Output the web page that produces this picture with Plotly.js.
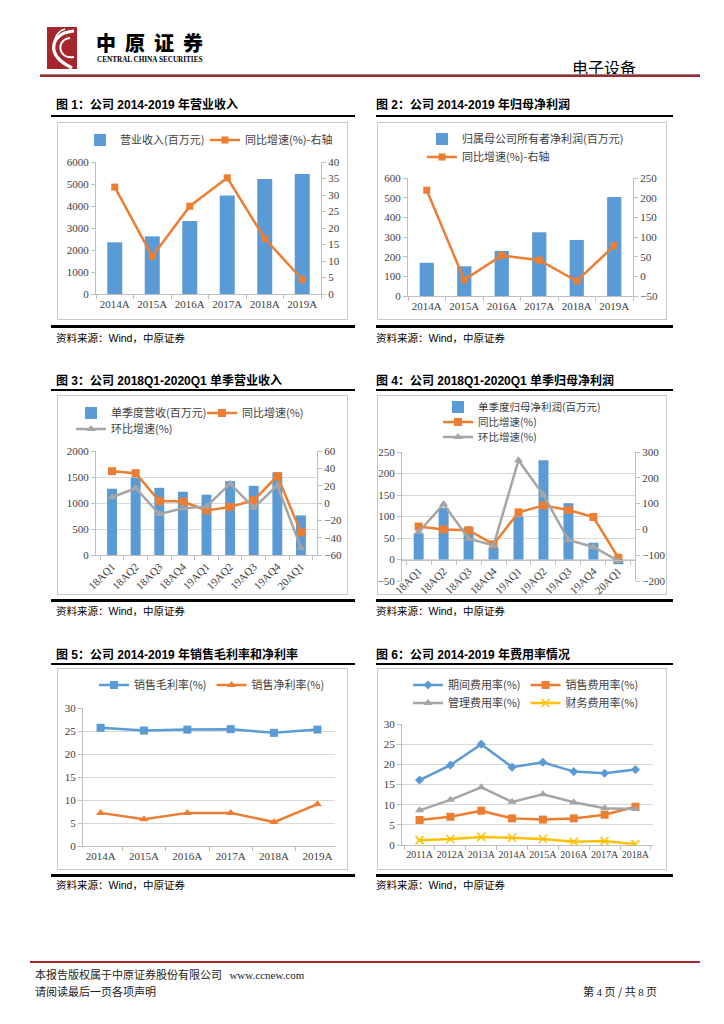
<!DOCTYPE html>
<html><head><meta charset="utf-8">
<script src="https://cdn.plot.ly/plotly-3.0.1.min.js"></script>
<style>
body{margin:0;background:#fff;}
#page{position:relative;width:724px;height:1024px;overflow:hidden;font-family:"Noto Sans CJK SC",sans-serif;color:#000;}
.title{position:absolute;font-family:"Liberation Sans","Noto Sans CJK SC",sans-serif;font-weight:bold;font-size:12px;line-height:14px;white-space:nowrap;}
.rule{position:absolute;height:2px;background:#000;}
.box{position:absolute;border:1px solid #c9c9c9;box-sizing:border-box;}
.src{position:absolute;font-size:10.5px;line-height:12px;white-space:nowrap;}
.src span{font-family:"Liberation Sans",sans-serif;}
.chart{position:absolute;}
.foot{position:absolute;font-size:11px;line-height:13px;white-space:nowrap;color:#222;}
</style></head><body><div id="page">

<svg style="position:absolute;left:47px;top:27px" width="30" height="42">
<rect width="30" height="42" fill="#a3272d"/>
<path d="M27,4 C13,5 5,13 7,24 C9,32 17,37 25,41" stroke="#fff" stroke-width="3.2" fill="none"/>
<path d="M23,11 C15,12 12,18 14,24 C16,29 21,31 27,30" stroke="#fff" stroke-width="2" fill="none"/>
<path d="M18,2 C12,4 9,8 8,12" stroke="#fff" stroke-width="1.5" fill="none"/>
</svg>
<div style="position:absolute;left:96px;top:31px;font-size:20px;line-height:24px;font-weight:900;letter-spacing:9px;white-space:nowrap;">中原证券</div>
<div style="position:absolute;left:97px;top:56px;font-family:'Liberation Serif',serif;font-weight:bold;font-size:7.2px;line-height:8px;white-space:nowrap;">CENTRAL CHINA SECURITIES</div>
<div style="position:absolute;left:572px;top:57px;font-size:16px;line-height:20px;white-space:nowrap;">电子设备</div>
<div style="position:absolute;left:40px;top:74px;width:660px;height:1px;background:#888;"></div>
<div style="position:absolute;left:40px;top:75px;width:660px;height:2px;background:#a3272d;"></div>

<div class="title" style="left:56px;top:98px">图 1：公司 2014-2019 年营业收入</div>
<div class="rule" style="left:51px;top:115px;width:304px"></div>
<div class="box" style="left:57px;top:122px;width:291px;height:198px"></div>
<div class="rule" style="left:51px;top:325px;width:304px;height:2.5px"></div>
<div class="src" style="left:56px;top:332px">资料来源：<span>Wind</span>，中原证券</div>

<div class="title" style="left:376px;top:98px">图 2：公司 2014-2019 年归母净利润</div>
<div class="rule" style="left:376px;top:115px;width:297px"></div>
<div class="box" style="left:377px;top:122px;width:290px;height:198px"></div>
<div class="rule" style="left:376px;top:325px;width:297px;height:2.5px"></div>
<div class="src" style="left:376px;top:332px">资料来源：<span>Wind</span>，中原证券</div>

<div class="title" style="left:56px;top:374px">图 3：公司 2018Q1-2020Q1 单季营业收入</div>
<div class="rule" style="left:51px;top:389px;width:304px"></div>
<div class="box" style="left:57px;top:395px;width:291px;height:200px"></div>
<div class="rule" style="left:51px;top:599px;width:304px;height:2.5px"></div>
<div class="src" style="left:56px;top:605px">资料来源：<span>Wind</span>，中原证券</div>

<div class="title" style="left:376px;top:374px">图 4：公司 2018Q1-2020Q1 单季归母净利润</div>
<div class="rule" style="left:376px;top:389px;width:297px"></div>
<div class="box" style="left:377px;top:395px;width:290px;height:200px"></div>
<div class="rule" style="left:376px;top:599px;width:297px;height:2.5px"></div>
<div class="src" style="left:376px;top:605px">资料来源：<span>Wind</span>，中原证券</div>

<div class="title" style="left:56px;top:648px">图 5：公司 2014-2019 年销售毛利率和净利率</div>
<div class="rule" style="left:51px;top:663px;width:304px"></div>
<div class="box" style="left:57px;top:668px;width:291px;height:202px"></div>
<div class="rule" style="left:51px;top:874px;width:304px;height:2.5px"></div>
<div class="src" style="left:56px;top:879px">资料来源：<span>Wind</span>，中原证券</div>

<div class="title" style="left:376px;top:648px">图 6：公司 2014-2019 年费用率情况</div>
<div class="rule" style="left:376px;top:663px;width:297px"></div>
<div class="box" style="left:377px;top:668px;width:290px;height:202px"></div>
<div class="rule" style="left:376px;top:874px;width:297px;height:2.5px"></div>
<div class="src" style="left:376px;top:879px">资料来源：<span>Wind</span>，中原证券</div>

<div id="c1" class="chart"></div>
<div id="c2" class="chart"></div>
<div id="c3" class="chart"></div>
<div id="c4" class="chart"></div>
<div id="c5" class="chart"></div>
<div id="c6" class="chart"></div>

<div style="position:absolute;left:30px;top:961px;width:670px;height:2px;background:#a3272d;"></div>
<div class="foot" style="left:35px;top:968px">本报告版权属于中原证券股份有限公司&nbsp;&nbsp;&nbsp;<span style="font-family:'Liberation Serif',serif">www.ccnew.com</span></div>
<div class="foot" style="left:35px;top:985px">请阅读最后一页各项声明</div>
<div class="foot" style="left:583px;top:985px">第 <span style="font-family:'Liberation Serif',serif">4</span> 页 / 共 <span style="font-family:'Liberation Serif',serif">8</span> 页</div>

</div>
<script>
// ---------- data ----------
const years1 = ['2014A','2015A','2016A','2017A','2018A','2019A'];
const revenue = [2350, 2620, 3320, 4475, 5230, 5455];
const revenueYoY = [32.4, 11.4, 26.6, 35.2, 16.8, 4.4];
const netProfit = [169, 151, 229, 324, 285, 503];
const netProfitYoY = [219, -9, 53, 41, -12, 78];
const quarters = ['18AQ1','18AQ2','18AQ3','18AQ4','19AQ1','19AQ2','19AQ3','19AQ4','20AQ1'];
const qRevenue = [1274, 1488, 1292, 1216, 1160, 1420, 1330, 1586, 762];
const qRevenueYoY = [36.7, 34.4, 2.2, 1.6, -8.7, -4.5, 3.1, 31.1, -33.8];
const qRevenueQoQ = [6.6, 17.0, -12.7, -6.2, -4.1, 22.3, -5.4, 20.2, -51.8];
const qProfit = [60, 120, 75, 28, 100, 231, 131, 39, -11];
const qProfitYoY = [11, 0, -3, -58, 66, 93, 75, 48, -110];
const qProfitQoQ = [-10, 98, -36, -62, 268, 133, -41, -68, -122];
const grossMargin = [25.7, 25.1, 25.3, 25.4, 24.6, 25.3];
const netMargin = [7.2, 5.8, 7.2, 7.2, 5.2, 9.1];
const years6 = ['2011A','2012A','2013A','2014A','2015A','2016A','2017A','2018A'];
const periodExp = [16.1, 19.8, 25.0, 19.3, 20.5, 18.2, 17.8, 18.7];
const sellingExp = [6.2, 7.0, 8.5, 6.6, 6.3, 6.6, 7.5, 9.5];
const adminExp = [8.6, 11.2, 14.3, 10.7, 12.6, 10.6, 9.1, 8.9];
const financeExp = [1.2, 1.5, 2.0, 1.8, 1.5, 0.8, 1.0, 0.2];

// ---------- styles ----------
const BLUE = '#5b9bd5', ORANGE = '#ed7d31', GREY = '#a5a5a5', YELLOW = '#ffc000';
const tickFont = {family:'"Liberation Serif", serif', size:11, color:'#404040'};
const legFont = {family:'"Noto Sans CJK SC", sans-serif', size:11, color:'#404040'};
function yAx(extra){ return Object.assign({showline:true, linecolor:'#bfbfbf', linewidth:1, ticks:'outside', ticklen:4, tickcolor:'#bfbfbf', tickfont:tickFont, zeroline:false, showgrid:false, gridcolor:'#d9d9d9', fixedrange:true, automargin:false}, extra); }
function xAx(extra){ return Object.assign({type:'category', showline:true, linecolor:'#bfbfbf', linewidth:1, ticks:'outside', ticklen:4, tickcolor:'#bfbfbf', tickson:'boundaries', tickfont:tickFont, showgrid:false, zeroline:false, fixedrange:true, automargin:false, tickangle:0}, extra); }
const EXL = 14, EXR = 8, EXB = 12; // extra svg room around each box
function place(id, box, plot){
  const el = document.getElementById(id);
  const left = box[0]-EXL, top = box[1];
  const w = box[2]+EXL+EXR, h = box[3]+EXB;
  el.style.left = left+'px'; el.style.top = top+'px';
  const L = {width:w, height:h, margin:{l:plot[0]-left, r:(left+w)-plot[1], t:plot[2]-top, b:(top+h)-plot[3], pad:0},
    paper_bgcolor:'rgba(0,0,0,0)', plot_bgcolor:'rgba(0,0,0,0)', showlegend:true, hovermode:false};
  L._g = {left, top, w, h};
  return L;
}
// legend whose left edge is at page pixel X and vertical centre at page pixel Y
function legAt(L, X, Y, extra){
  const g = L._g;
  return Object.assign({font:legFont, bgcolor:'rgba(0,0,0,0)', itemwidth:30, tracegroupgap:0,
    xref:'container', yref:'container', x:(X-g.left)/g.w, y:1-(Y-g.top)/g.h,
    xanchor:'left', yanchor:'middle', orientation:'h'}, extra||{});
}
function draw(id, traces, L){ delete L._g; Plotly.newPlot(id, traces, L, {staticPlot:true, displayModeBar:false}); }
function lineTrace(name, x, y, color, symbol, axis, legendId, size){
  return {type:'scatter', mode:'lines+markers', name, x, y, yaxis:axis||'y', legend:legendId||'legend',
    line:{color, width:2.5}, marker:{color, symbol, size:size||7, line:{color, width:symbol.indexOf('open')>=0?1.6:0}}};
}

// ---------- chart 1 ----------
(function(){
  const L = place('c1', [57,122,291,198], [96,321,162,294]);
  L.xaxis = xAx({});
  L.yaxis = yAx({range:[0,6000], dtick:1000});
  L.yaxis2 = yAx({range:[0,40], dtick:5, overlaying:'y', side:'right'});
  L.legend = legAt(L, 80, 140);
  L.legend2 = legAt(L, 205, 140);
  draw('c1', [
    {type:'bar', name:'营业收入(百万元)', x:years1, y:revenue, width:0.4, marker:{color:BLUE}},
    lineTrace('同比增速(%)-右轴', years1, revenueYoY, ORANGE, 'square', 'y2', 'legend2')
  ], L);
})();

// ---------- chart 2 ----------
(function(){
  const L = place('c2', [377,122,290,198], [408,633,178,296]);
  L.xaxis = xAx({});
  L.yaxis = yAx({range:[0,600], dtick:100});
  L.yaxis2 = yAx({range:[-50,250], dtick:50, overlaying:'y', side:'right'});
  L.legend = legAt(L, 422, 139);
  L.legend2 = legAt(L, 422, 157);
  draw('c2', [
    {type:'bar', name:'归属母公司所有者净利润(百万元)', x:years1, y:netProfit, width:0.38, marker:{color:BLUE}},
    lineTrace('同比增速(%)-右轴', years1, netProfitYoY, ORANGE, 'square', 'y2', 'legend2')
  ], L);
})();

// ---------- chart 3 ----------
(function(){
  const L = place('c3', [57,395,291,200], [96,317,451,555]);
  L.xaxis = xAx({tickangle:-45});
  L.yaxis = yAx({range:[0,2000], dtick:500, showgrid:true});
  L.yaxis2 = yAx({range:[-60,60], dtick:20, overlaying:'y', side:'right'});
  L.legend = legAt(L, 71, 413);
  L.legend2 = legAt(L, 202, 413);
  L.legend3 = legAt(L, 71, 429);
  draw('c3', [
    {type:'bar', name:'单季度营收(百万元)', x:quarters, y:qRevenue, width:0.42, marker:{color:BLUE}},
    lineTrace('同比增速(%)', quarters, qRevenueYoY, ORANGE, 'square', 'y2', 'legend2', 8),
    lineTrace('环比增速(%)', quarters, qRevenueQoQ, GREY, 'triangle-up', 'y2', 'legend3', 8)
  ], L);
})();

// ---------- chart 4 ----------
(function(){
  const L = place('c4', [377,395,290,200], [402,635,452,581]);
  L.xaxis = xAx({tickangle:-45, anchor:'free', position:50/300});
  L.yaxis = yAx({range:[-50,250], dtick:50, showgrid:true});
  L.yaxis2 = yAx({range:[-200,300], dtick:100, overlaying:'y', side:'right'});
  const f = Object.assign({}, legFont, {size:10.5});
  L.legend = legAt(L, 438, 407, {font:f});
  L.legend2 = legAt(L, 438, 422, {font:f});
  L.legend3 = legAt(L, 438, 437, {font:f});
  draw('c4', [
    {type:'bar', name:'单季度归母净利润(百万元)', x:quarters, y:qProfit, width:0.4, marker:{color:BLUE}},
    lineTrace('同比增速(%)', quarters, qProfitYoY, ORANGE, 'square', 'y2', 'legend2', 8),
    lineTrace('环比增速(%)', quarters, qProfitQoQ, GREY, 'triangle-up', 'y2', 'legend3', 8)
  ], L);
})();

// ---------- chart 5 ----------
(function(){
  const L = place('c5', [57,668,291,202], [83,335,708,846]);
  L.xaxis = xAx({});
  L.yaxis = yAx({range:[0,30], dtick:5, showgrid:true});
  L.legend = legAt(L, 94, 685);
  draw('c5', [
    lineTrace('销售毛利率(%)', years1, grossMargin, BLUE, 'square', 'y', 'legend', 8),
    lineTrace('销售净利率(%)', years1, netMargin, ORANGE, 'triangle-up', 'y', 'legend', 8)
  ], L);
})();

// ---------- chart 6 ----------
(function(){
  const L = place('c6', [377,668,290,202], [402,653,724,845]);
  L.xaxis = xAx({tickfont:Object.assign({}, tickFont, {size:10})});
  L.yaxis = yAx({range:[0,30], dtick:5, showgrid:true});
  L.legend = legAt(L, 408, 685);
  L.legend2 = legAt(L, 408, 703);
  draw('c6', [
    lineTrace('期间费用率(%)', years6, periodExp, BLUE, 'diamond', 'y', 'legend', 7),
    lineTrace('销售费用率(%)', years6, sellingExp, ORANGE, 'square', 'y', 'legend', 8),
    lineTrace('管理费用率(%)', years6, adminExp, GREY, 'triangle-up', 'y', 'legend2', 8),
    lineTrace('财务费用率(%)', years6, financeExp, YELLOW, 'x-thin-open', 'y', 'legend2', 8)
  ], L);
})();
</script>
</body></html>
